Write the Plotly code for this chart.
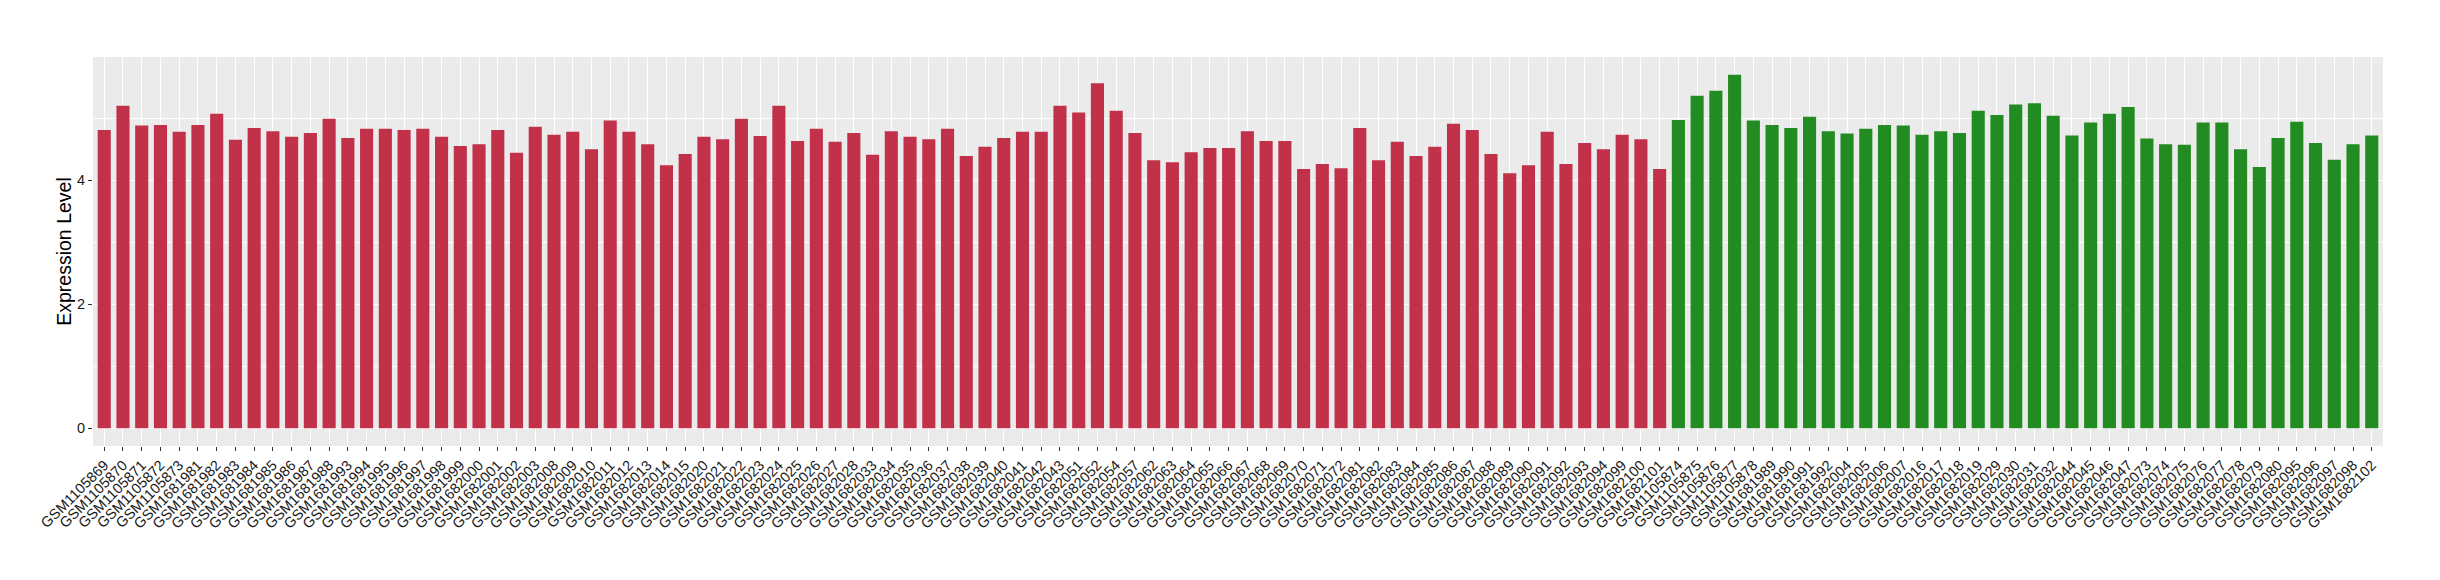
import plotly.graph_objects as go

# sample names and expression values, first group (red)
group_a_samples = [
    "GSM1105869", "GSM1105870", "GSM1105871", "GSM1105872", "GSM1105873",
    "GSM1681981", "GSM1681982", "GSM1681983", "GSM1681984", "GSM1681985",
    "GSM1681986", "GSM1681987", "GSM1681988", "GSM1681993", "GSM1681994",
    "GSM1681995", "GSM1681996", "GSM1681997", "GSM1681998", "GSM1681999",
    "GSM1682000", "GSM1682001", "GSM1682002", "GSM1682003", "GSM1682008",
    "GSM1682009", "GSM1682010", "GSM1682011", "GSM1682012", "GSM1682013",
    "GSM1682014", "GSM1682015", "GSM1682020", "GSM1682021", "GSM1682022",
    "GSM1682023", "GSM1682024", "GSM1682025", "GSM1682026", "GSM1682027",
    "GSM1682028", "GSM1682033", "GSM1682034", "GSM1682035", "GSM1682036",
    "GSM1682037", "GSM1682038", "GSM1682039", "GSM1682040", "GSM1682041",
    "GSM1682042", "GSM1682043", "GSM1682051", "GSM1682052", "GSM1682054",
    "GSM1682057", "GSM1682062", "GSM1682063", "GSM1682064", "GSM1682065",
    "GSM1682066", "GSM1682067", "GSM1682068", "GSM1682069", "GSM1682070",
    "GSM1682071", "GSM1682072", "GSM1682081", "GSM1682082", "GSM1682083",
    "GSM1682084", "GSM1682085", "GSM1682086", "GSM1682087", "GSM1682088",
    "GSM1682089", "GSM1682090", "GSM1682091", "GSM1682092", "GSM1682093",
    "GSM1682094", "GSM1682099", "GSM1682100", "GSM1682101",
]
group_a_values = [
    4.81, 5.20, 4.88, 4.89, 4.78, 4.89, 5.07, 4.65, 4.84, 4.79,
    4.70, 4.76, 4.99, 4.68, 4.83, 4.83, 4.81, 4.83, 4.70, 4.55,
    4.58, 4.81, 4.44, 4.86, 4.73, 4.78, 4.50, 4.96, 4.78, 4.58,
    4.24, 4.42, 4.70, 4.66, 4.99, 4.71, 5.20, 4.63, 4.83, 4.62,
    4.76, 4.41, 4.79, 4.70, 4.66, 4.83, 4.39, 4.54, 4.68, 4.78,
    4.78, 5.20, 5.09, 5.56, 5.12, 4.76, 4.32, 4.29, 4.45, 4.52,
    4.52, 4.79, 4.63, 4.63, 4.18, 4.26, 4.19, 4.84, 4.32, 4.62,
    4.39, 4.54, 4.91, 4.81, 4.42, 4.11, 4.24, 4.78, 4.26, 4.60,
    4.50, 4.73, 4.66, 4.18,
]

# second group (green)
group_b_samples = [
    "GSM1105874", "GSM1105875", "GSM1105876", "GSM1105877", "GSM1105878",
    "GSM1681989", "GSM1681990", "GSM1681991", "GSM1681992", "GSM1682004",
    "GSM1682005", "GSM1682006", "GSM1682007", "GSM1682016", "GSM1682017",
    "GSM1682018", "GSM1682019", "GSM1682029", "GSM1682030", "GSM1682031",
    "GSM1682032", "GSM1682044", "GSM1682045", "GSM1682046", "GSM1682047",
    "GSM1682073", "GSM1682074", "GSM1682075", "GSM1682076", "GSM1682077",
    "GSM1682078", "GSM1682079", "GSM1682080", "GSM1682095", "GSM1682096",
    "GSM1682097", "GSM1682098", "GSM1682102",
]
group_b_values = [
    4.97, 5.36, 5.44, 5.70, 4.96, 4.89, 4.84, 5.02, 4.79, 4.75,
    4.83, 4.89, 4.88, 4.73, 4.79, 4.76, 5.12, 5.05, 5.22, 5.24,
    5.04, 4.72, 4.93, 5.07, 5.18, 4.67, 4.58, 4.57, 4.93, 4.93,
    4.50, 4.21, 4.68, 4.94, 4.60, 4.33, 4.58, 4.72,
]

RED = "#C2314A"
GREEN = "#228B22"
TEXT = "#1a1a1a"
FONT = "Liberation Sans, Arial, sans-serif"

fig = go.Figure()
fig.add_trace(go.Bar(x=group_a_samples, y=group_a_values, marker_color=RED,
                     marker_line_width=0, width=0.7, name="A"))
fig.add_trace(go.Bar(x=group_b_samples, y=group_b_values, marker_color=GREEN,
                     marker_line_width=0, width=0.7, name="B"))

all_samples = group_a_samples + group_b_samples

# page body keeps its default 8px margin, so the figure is shrunk by that much
fig.update_layout(
    width=2424,
    height=564,
    barmode="overlay",
    showlegend=False,
    paper_bgcolor="white",
    plot_bgcolor="#EBEBEB",
    margin=dict(l=85, r=49, t=49, b=126, autoexpand=False),
    font=dict(family=FONT, color=TEXT),
)
fig.update_xaxes(
    type="category",
    categoryorder="array",
    categoryarray=all_samples,
    range=[-0.6, len(all_samples) - 0.4],
    showgrid=True,
    gridcolor="white",
    gridwidth=1.3,
    ticks="outside",
    ticklen=4,
    tickwidth=1,
    tickcolor="#333333",
    tickangle=-45,
    tickfont=dict(size=14.5, color=TEXT),
    showline=False,
    zeroline=False,
    automargin=False,
)
fig.update_yaxes(
    range=[-0.285, 5.985],
    tick0=0,
    dtick=2,
    showgrid=True,
    gridcolor="white",
    gridwidth=1.3,
    minor=dict(dtick=1, tick0=0, showgrid=True, gridcolor="white", gridwidth=0.6),
    ticks="outside",
    ticklen=4,
    tickwidth=1,
    tickcolor="#333333",
    tickfont=dict(size=14.5, color=TEXT),
    title=dict(text="Expression Level", font=dict(size=19.5, color="black"), standoff=0),
    zeroline=False,
    showline=False,
    automargin=False,
)

fig.write_html("out.html")
